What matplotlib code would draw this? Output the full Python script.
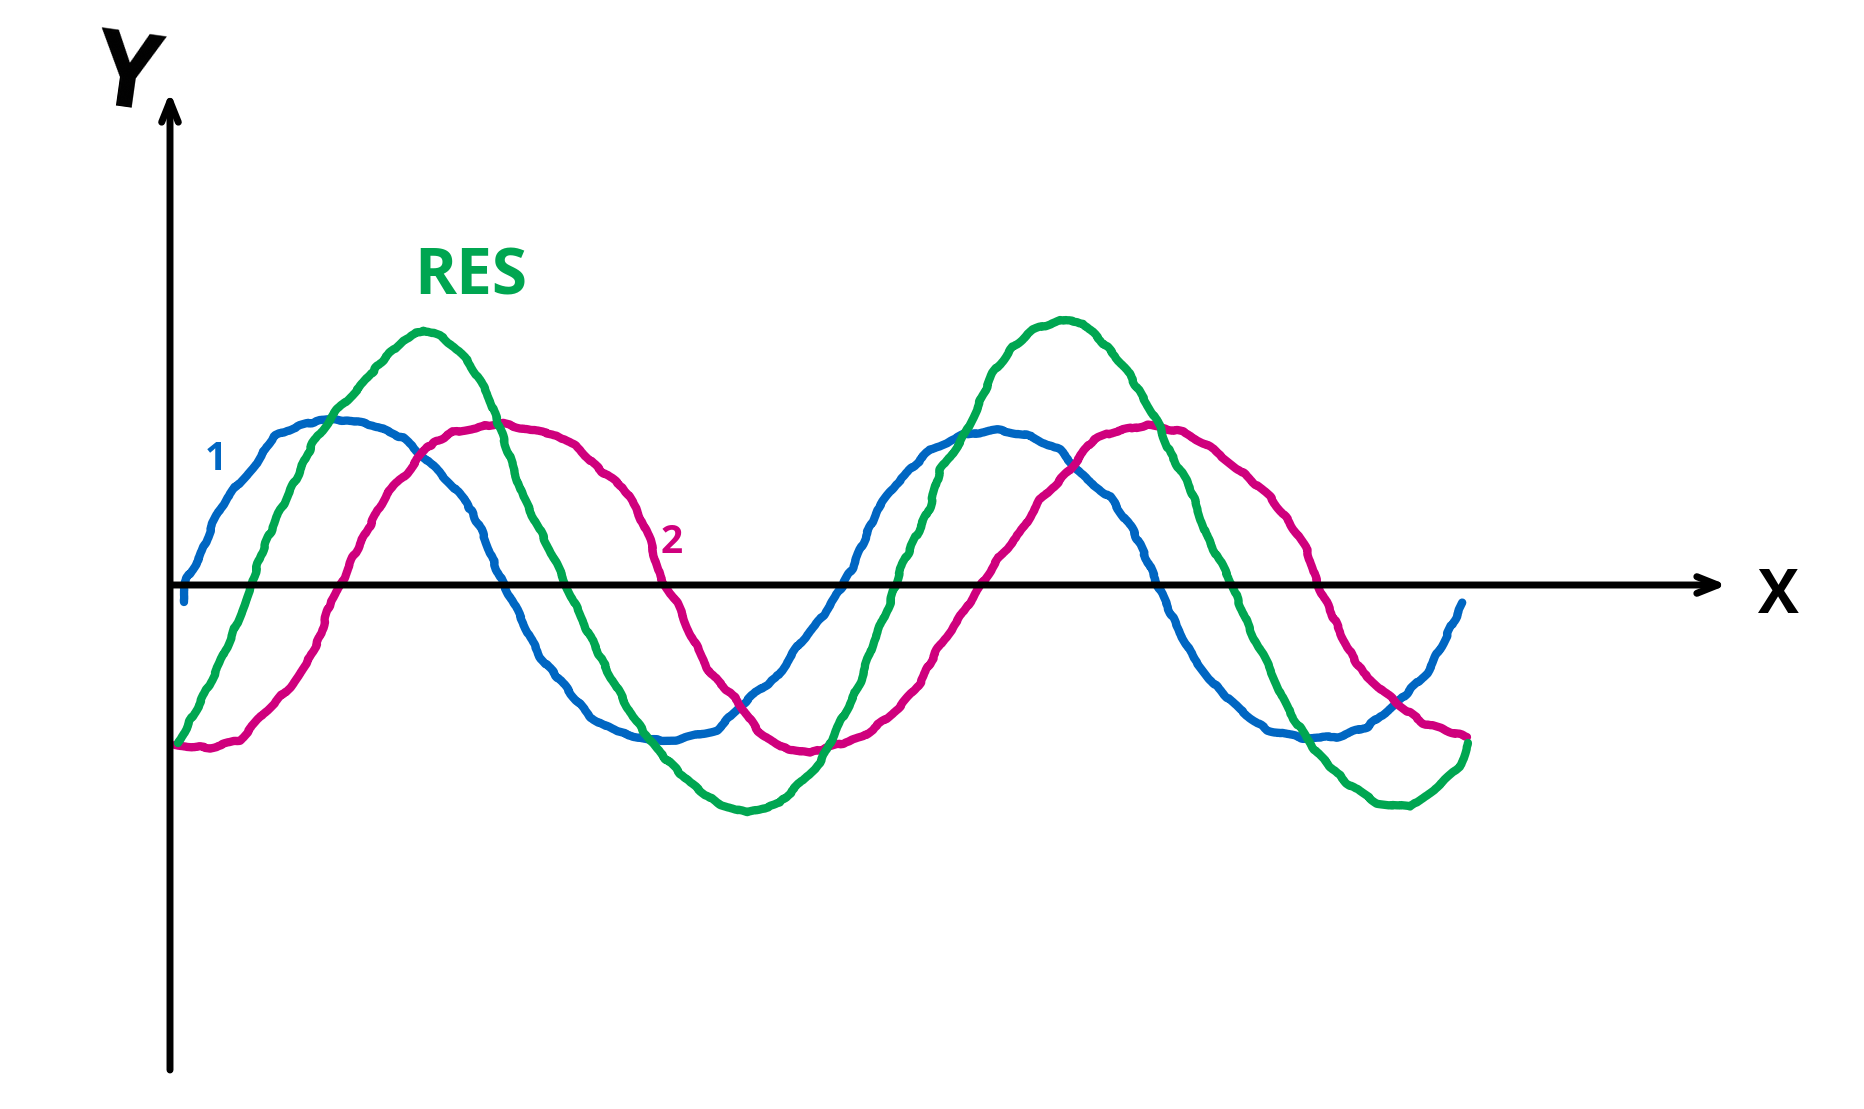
"""Hand-drawn style sketch: two waves (1, 2) and their sum (RES)."""
import matplotlib
matplotlib.use("Agg")
import matplotlib.pyplot as plt

# ---- values (arbitrary units) ----------------------------------------------
wave1_x = [0.14, 0.13, 0.30, 0.43, 0.57, 0.70, 0.87, 1.03, 1.23, 1.50, 1.77, 2.03,
           2.33, 2.57, 2.80, 2.97, 3.13, 3.28, 3.33, 3.47, 3.70, 3.90, 4.20, 4.47,
           4.80, 5.07, 5.47, 5.80, 6.07, 6.30, 6.50, 6.70, 6.83, 7.07, 7.27, 7.60,
           7.93, 8.27, 8.57, 8.90, 9.17, 9.40, 9.63, 9.77, 9.87, 9.90, 10.07, 10.23,
           10.43, 10.70, 10.97, 11.33, 11.67, 11.97, 12.27, 12.57, 12.73, 12.93]
wave1_y = [-0.17, 0.00, 0.28, 0.62, 0.88, 1.03, 1.22, 1.48, 1.57, 1.65, 1.65, 1.60,
           1.47, 1.25, 1.02, 0.82, 0.52, 0.12, 0.02, -0.25, -0.72, -0.95, -1.32, -1.47,
           -1.55, -1.55, -1.45, -1.12, -0.92, -0.58, -0.35, -0.05, 0.18, 0.75, 1.02, 1.35,
           1.50, 1.55, 1.50, 1.35, 1.05, 0.88, 0.55, 0.25, 0.02, -0.05, -0.42, -0.72,
           -0.98, -1.25, -1.45, -1.53, -1.52, -1.42, -1.18, -0.88, -0.58, -0.18]

wave2_x = [0.05, 0.40, 0.70, 0.97, 1.20, 1.37, 1.50, 1.60, 1.70, 1.83, 2.03, 2.17,
           2.37, 2.57, 2.83, 3.10, 3.30, 3.60, 3.87, 4.07, 4.30, 4.53, 4.67, 4.80,
           4.90, 5.07, 5.20, 5.40, 5.67, 5.87, 6.10, 6.40, 6.60, 6.93, 7.30, 7.50,
           7.67, 7.90, 8.10, 8.27, 8.50, 8.70, 8.97, 9.23, 9.43, 9.77, 10.13, 10.40,
           10.73, 11.00, 11.20, 11.37, 11.47, 11.60, 11.77, 11.93, 12.27, 12.53, 12.97]
wave2_y = [-1.60, -1.63, -1.55, -1.25, -1.02, -0.78, -0.52, -0.18, -0.02, 0.28, 0.65, 0.92,
           1.12, 1.38, 1.53, 1.58, 1.62, 1.55, 1.50, 1.38, 1.15, 0.98, 0.75, 0.45,
           0.08, -0.18, -0.48, -0.88, -1.15, -1.45, -1.62, -1.68, -1.62, -1.52, -1.22, -0.98,
           -0.65, -0.32, -0.02, 0.25, 0.52, 0.85, 1.12, 1.45, 1.53, 1.60, 1.53, 1.38,
           1.12, 0.88, 0.62, 0.35, 0.02, -0.25, -0.62, -0.88, -1.18, -1.38, -1.52]

res_x = [0.08, 0.30, 0.50, 0.67, 0.80, 0.90, 1.07, 1.27, 1.43, 1.67, 1.90, 2.10,
         2.33, 2.53, 2.73, 2.97, 3.10, 3.20, 3.33, 3.53, 3.80, 3.97, 4.17, 4.37,
         4.63, 4.90, 5.20, 5.47, 5.77, 6.10, 6.33, 6.50, 6.70, 6.90, 7.03, 7.20,
         7.30, 7.43, 7.60, 7.70, 7.90, 8.03, 8.23, 8.43, 8.63, 8.90, 9.13, 9.37,
         9.57, 9.70, 9.87, 10.00, 10.20, 10.37, 10.60, 10.80, 10.97, 11.20, 11.47,
         11.77, 12.07, 12.40, 12.67, 12.90, 12.98]
res_y = [-1.58, -1.18, -0.78, -0.38, -0.05, 0.28, 0.68, 1.08, 1.42, 1.75, 1.98, 2.22,
         2.45, 2.55, 2.48, 2.25, 2.05, 1.85, 1.48, 0.88, 0.35, -0.02, -0.45, -0.85,
         -1.32, -1.68, -1.98, -2.18, -2.28, -2.18, -1.95, -1.78, -1.38, -0.98, -0.58, -0.18,
         0.15, 0.42, 0.78, 1.15, 1.42, 1.68, 2.12, 2.38, 2.55, 2.65, 2.62, 2.38,
         2.15, 1.92, 1.65, 1.32, 0.98, 0.48, 0.05, -0.45, -0.78, -1.28, -1.68,
         -1.98, -2.18, -2.22, -2.02, -1.82, -1.58]

axis_x_end = 15.57
axis_y_top = 4.93
axis_y_bottom = -4.85

BLUE = "#0066c2"
MAGENTA = "#cf007d"
GREEN = "#00a651"
INK = "#000000"

fig = plt.figure(figsize=(18.64, 11.09), dpi=100)
ax = fig.add_axes([0, 0, 1, 1])
ax.set_xlim(-1.70, 16.94)
ax.set_ylim(-5.24, 5.85)
ax.axis("off")

# ---- axes drawn as pen strokes ---------------------------------------------
arrow = dict(arrowstyle="->,head_length=1.5,head_width=0.6", color=INK,
             lw=5.0, capstyle="round", joinstyle="round", shrinkA=0, shrinkB=0)
ax.annotate("", xy=(0, axis_y_top), xytext=(0, axis_y_bottom), arrowprops=arrow)
ax.annotate("", xy=(axis_x_end, 0), xytext=(0.03, 0), arrowprops=arrow)

# ---- the three curves -------------------------------------------------------
for xs, ys, col in [(wave1_x, wave1_y, BLUE), (wave2_x, wave2_y, MAGENTA),
                    (res_x, res_y, GREEN)]:
    ln, = ax.plot(xs, ys, color=col, lw=6.0, solid_capstyle="round",
                  solid_joinstyle="round")
    ln.set_sketch_params(scale=0.9, length=110, randomness=20)

# ---- hand lettering ---------------------------------------------------------
fam = ["Open Sans", "DejaVu Sans"]
ax.text(-0.43, 5.06, "Y", color=INK, fontsize=76, family=fam,
        fontweight="bold", ha="center", va="center", rotation=-8)
ax.text(16.08, -0.13, "X", color=INK, fontsize=44, family=fam,
        fontweight="bold", ha="center", va="center")
ax.text(3.01, 3.07, "RES", color=GREEN, fontsize=46, family=fam,
        fontweight="bold", ha="center", va="center")
ax.text(0.46, 1.25, "1", color=BLUE, fontsize=28, family=fam,
        fontweight="bold", ha="center", va="center")
ax.text(5.02, 0.42, "2", color=MAGENTA, fontsize=28, family=fam,
        fontweight="bold", ha="center", va="center")

fig.savefig("out.png", dpi=100)
plt.close(fig)
